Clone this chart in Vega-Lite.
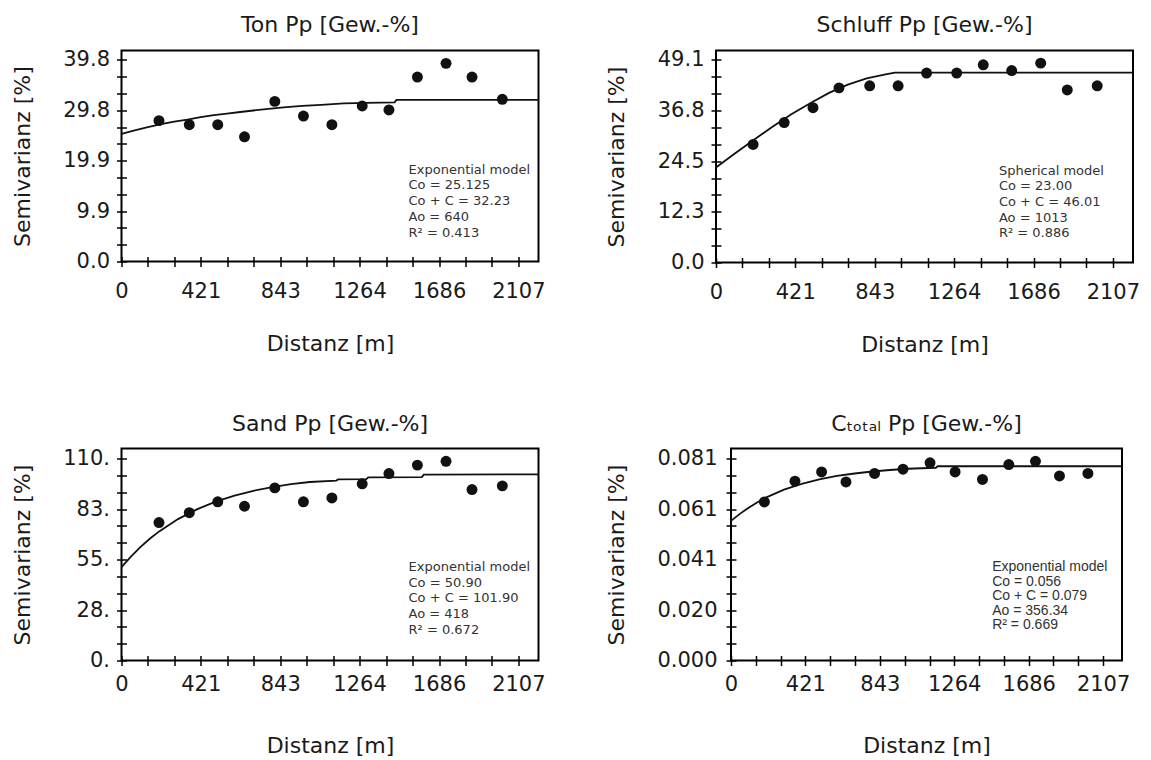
{
  "$schema": "https://vega.github.io/schema/vega-lite/v6.json",
  "padding": {"left": 9.5, "top": 12.5, "right": 0, "bottom": 0},
  "background": "white",
  "config": {
    "font": "DejaVu Sans",
    "view": {"stroke": "black", "strokeWidth": 2},
    "axis": {"domain": false, "grid": false, "tickColor": "black", "tickWidth": 1.5, "tickSize": 10, "offset": -5, "labelFontSize": 21, "titleFontSize": 22, "labelColor": "#1a1a1a", "titleColor": "#1a1a1a", "titleFontWeight": "normal", "labelFont": "DejaVu Sans", "titleFont": "DejaVu Sans", "labelOverlap": false, "labelBound": false, "labelFlush": false},
    "axisX": {"labelPadding": 14.4, "titlePadding": 32},
    "axisY": {"labelPadding": 7, "titlePadding": 28.5},
    "title": {"fontSize": 22, "fontWeight": "normal", "offset": 12, "color": "#1a1a1a", "font": "DejaVu Sans"}
  },
  "datasets": {
    "ton_pts": [{"h":199,"g":27.8},{"h":360,"g":27.0},{"h":511,"g":27.0},{"h":653,"g":24.6},{"h":814,"g":31.6},{"h":966,"g":28.7},{"h":1117,"g":27.0},{"h":1278,"g":30.7},{"h":1420,"g":29.9},{"h":1571,"g":36.4},{"h":1723,"g":39.1},{"h":1861,"g":36.4},{"h":2022,"g":32.0}],
    "ton_curve": [{"h":0,"g":25.2},{"h":70,"g":25.9},{"h":140,"g":26.5},{"h":210,"g":27.1},{"h":280,"g":27.6},{"h":350,"g":28.0},{"h":420,"g":28.5},{"h":490,"g":28.9},{"h":560,"g":29.2},{"h":630,"g":29.5},{"h":700,"g":29.8},{"h":780,"g":30.1},{"h":860,"g":30.4},{"h":960,"g":30.7},{"h":1060,"g":30.9},{"h":1180,"g":31.2},{"h":1300,"g":31.3},{"h":1450,"g":31.4},{"h":1460,"g":31.9},{"h":2214,"g":31.9}],
    "ton_note": [{"note": "Exponential model\nCo = 25.125\nCo + C = 32.23\nAo = 640\nR² = 0.413"}],
    "schluff_pts": [{"h":197,"g":28.6},{"h":362,"g":33.9},{"h":515,"g":37.5},{"h":653,"g":42.3},{"h":816,"g":42.8},{"h":967,"g":42.8},{"h":1118,"g":45.9},{"h":1278,"g":45.9},{"h":1419,"g":47.9},{"h":1570,"g":46.5},{"h":1724,"g":48.3},{"h":1865,"g":41.8},{"h":2024,"g":42.8}],
    "schluff_curve": [{"h":0,"g":23.0},{"h":100,"g":26.4},{"h":200,"g":29.7},{"h":300,"g":32.9},{"h":400,"g":35.9},{"h":500,"g":38.6},{"h":600,"g":41.1},{"h":700,"g":43.1},{"h":800,"g":44.6},{"h":900,"g":45.6},{"h":950,"g":46.0},{"h":2214,"g":46.0}],
    "schluff_note": [{"note": "Spherical model\nCo = 23.00\nCo + C = 46.01\nAo = 1013\nR² = 0.886"}],
    "sand_pts": [{"h":199,"g":75.1},{"h":360,"g":80.5},{"h":511,"g":86.4},{"h":653,"g":84.0},{"h":814,"g":94.0},{"h":966,"g":86.4},{"h":1117,"g":88.5},{"h":1278,"g":96.2},{"h":1420,"g":101.8},{"h":1571,"g":106.4},{"h":1723,"g":108.5},{"h":1861,"g":93.1},{"h":2022,"g":95.1}],
    "sand_curve": [{"h":0,"g":50.9},{"h":50,"g":56.6},{"h":100,"g":61.7},{"h":150,"g":66.3},{"h":200,"g":70.3},{"h":300,"g":77.0},{"h":400,"g":82.3},{"h":500,"g":86.5},{"h":600,"g":89.8},{"h":700,"g":92.4},{"h":800,"g":94.4},{"h":900,"g":96.0},{"h":1000,"g":97.2},{"h":1140,"g":98.0},{"h":1150,"g":98.6},{"h":1300,"g":98.8},{"h":1310,"g":99.7},{"h":1595,"g":99.9},{"h":1605,"g":101.2},{"h":2214,"g":101.4}],
    "sand_note": [{"note": "Exponential model\nCo = 50.90\nCo + C = 101.90\nAo = 418\nR² = 0.672"}],
    "c_pts": [{"h":189,"g":0.0636},{"h":362,"g":0.0719},{"h":513,"g":0.0756},{"h":651,"g":0.0716},{"h":813,"g":0.0750},{"h":974,"g":0.0767},{"h":1127,"g":0.0793},{"h":1269,"g":0.0756},{"h":1424,"g":0.0726},{"h":1573,"g":0.0786},{"h":1724,"g":0.0799},{"h":1860,"g":0.0740},{"h":2021,"g":0.0750}],
    "c_curve": [{"h":0,"g":0.0560},{"h":50,"g":0.0588},{"h":100,"g":0.0613},{"h":150,"g":0.0635},{"h":200,"g":0.0654},{"h":300,"g":0.0685},{"h":400,"g":0.0708},{"h":500,"g":0.0726},{"h":600,"g":0.0740},{"h":700,"g":0.0750},{"h":800,"g":0.0758},{"h":900,"g":0.0764},{"h":1000,"g":0.0769},{"h":1160,"g":0.0773},{"h":1170,"g":0.0779},{"h":2214,"g":0.0779}],
    "c_note": [{"note": "Exponential model\nCo = 0.056\nCo + C = 0.079\nAo = 356.34\nR² = 0.669"}]
  },
  "spacing": 54,
  "vconcat": [
    {
      "spacing": 57.5,
      "hconcat": [
        {
          "width": 417, "height": 211,
          "title": "Ton Pp [Gew.-%]",
          "layer": [
            {"data": {"name": "ton_curve"}, "mark": {"type": "line", "color": "#111", "strokeWidth": 1.8},
              "encoding": {
                "x": {"field": "h", "type": "quantitative", "scale": {"domain": [0, 2214], "nice": false, "zero": false},
                  "axis": {"title": "Distanz [m]", "format": "d", "tickCount": 60, "values": [0,140,281,421,562,702,843,983,1124,1264,1405,1545,1686,1826,1967,2107], "labelExpr": "indexof([0,421,843,1264,1686,2107], datum.value) >= 0 ? datum.label : ''"}},
                "y": {"field": "g", "type": "quantitative", "scale": {"domain": [0, 41.64], "nice": false},
                  "axis": {"title": "Semivarianz [%]", "tickCount": 60, "values": [0,3.3167,6.6333,9.95,13.2667,16.5833,19.9,23.2167,26.5333,29.85,33.1667,36.4833,39.8], "labelExpr": "datum.value==0?'0.0':datum.value==9.95?'9.9':datum.value==19.9?'19.9':datum.value==29.85?'29.8':datum.value==39.8?'39.8':''"}}
              }},
            {"data": {"name": "ton_pts"}, "mark": {"type": "circle", "size": 120, "color": "#111", "opacity": 1},
              "encoding": {"x": {"field": "h", "type": "quantitative"}, "y": {"field": "g", "type": "quantitative"}}},
            {"data": {"name": "ton_note"}, "mark": {"type": "text", "align": "left", "baseline": "middle", "fontSize": 13, "lineHeight": 15.7, "lineBreak": "\n", "font": "DejaVu Sans", "color": "#333"},
              "encoding": {"x": {"datum": 1524, "type": "quantitative"}, "y": {"datum": 18.1, "type": "quantitative"}, "text": {"field": "note", "type": "nominal"}}}
          ]
        },
        {
          "width": 417, "height": 212,
          "title": "Schluff Pp [Gew.-%]",
          "layer": [
            {"data": {"name": "schluff_curve"}, "mark": {"type": "line", "color": "#111", "strokeWidth": 1.8},
              "encoding": {
                "x": {"field": "h", "type": "quantitative", "scale": {"domain": [0, 2214], "nice": false, "zero": false},
                  "axis": {"title": "Distanz [m]", "format": "d", "tickCount": 60, "values": [0,140,281,421,562,702,843,983,1124,1264,1405,1545,1686,1826,1967,2107], "labelExpr": "indexof([0,421,843,1264,1686,2107], datum.value) >= 0 ? datum.label : ''"}},
                "y": {"field": "g", "type": "quantitative", "scale": {"domain": [0, 51.36], "nice": false},
                  "axis": {"title": "Semivarianz [%]", "tickCount": 60, "values": [0,4.0917,8.1833,12.275,16.3667,20.4583,24.55,28.6417,32.7333,36.825,40.9167,45.0083,49.1], "labelExpr": "datum.value==0?'0.0':datum.value==12.275?'12.3':datum.value==24.55?'24.5':datum.value==36.825?'36.8':datum.value==49.1?'49.1':''"}}
              }},
            {"data": {"name": "schluff_pts"}, "mark": {"type": "circle", "size": 120, "color": "#111", "opacity": 1},
              "encoding": {"x": {"field": "h", "type": "quantitative"}, "y": {"field": "g", "type": "quantitative"}}},
            {"data": {"name": "schluff_note"}, "mark": {"type": "text", "align": "left", "baseline": "middle", "fontSize": 13, "lineHeight": 15.7, "lineBreak": "\n", "font": "DejaVu Sans", "color": "#333"},
              "encoding": {"x": {"datum": 1502, "type": "quantitative"}, "y": {"datum": 22.25, "type": "quantitative"}, "text": {"field": "note", "type": "nominal"}}}
          ]
        }
      ]
    },
    {
      "spacing": 57.5,
      "hconcat": [
        {
          "width": 417, "height": 212,
          "title": "Sand Pp [Gew.-%]",
          "layer": [
            {"data": {"name": "sand_curve"}, "mark": {"type": "line", "color": "#111", "strokeWidth": 1.8},
              "encoding": {
                "x": {"field": "h", "type": "quantitative", "scale": {"domain": [0, 2214], "nice": false, "zero": false},
                  "axis": {"title": "Distanz [m]", "format": "d", "tickCount": 60, "labelPadding": 8, "titlePadding": 41, "values": [0,140,281,421,562,702,843,983,1124,1264,1405,1545,1686,1826,1967,2107], "labelExpr": "indexof([0,421,843,1264,1686,2107], datum.value) >= 0 ? datum.label : ''"}},
                "y": {"field": "g", "type": "quantitative", "scale": {"domain": [0, 115.45], "nice": false},
                  "axis": {"title": "Semivarianz [%]", "tickCount": 60, "values": [0,9.1667,18.3333,27.5,36.6667,45.8333,55,64.1667,73.3333,82.5,91.6667,100.8333,110], "labelExpr": "datum.value==0?'0.':datum.value==27.5?'28.':datum.value==55?'55.':datum.value==82.5?'83.':datum.value==110?'110.':''"}}
              }},
            {"data": {"name": "sand_pts"}, "mark": {"type": "circle", "size": 120, "color": "#111", "opacity": 1},
              "encoding": {"x": {"field": "h", "type": "quantitative"}, "y": {"field": "g", "type": "quantitative"}}},
            {"data": {"name": "sand_note"}, "mark": {"type": "text", "align": "left", "baseline": "middle", "fontSize": 13, "lineHeight": 15.7, "lineBreak": "\n", "font": "DejaVu Sans", "color": "#333"},
              "encoding": {"x": {"datum": 1524, "type": "quantitative"}, "y": {"datum": 50.9, "type": "quantitative"}, "text": {"field": "note", "type": "nominal"}}}
          ]
        },
        {
          "width": 391, "height": 212,
          "title": "Cₜₒₜₐₗ Pp [Gew.-%]",
          "layer": [
            {"data": {"name": "c_curve"}, "mark": {"type": "line", "color": "#111", "strokeWidth": 1.8},
              "encoding": {
                "x": {"field": "h", "type": "quantitative", "scale": {"domain": [0, 2214], "nice": false, "zero": false},
                  "axis": {"title": "Distanz [m]", "format": "d", "tickCount": 60, "labelPadding": 8, "titlePadding": 41, "values": [0,140,281,421,562,702,843,983,1124,1264,1405,1545,1686,1826,1967,2107], "labelExpr": "indexof([0,421,843,1264,1686,2107], datum.value) >= 0 ? datum.label : ''"}},
                "y": {"field": "g", "type": "quantitative", "scale": {"domain": [0, 0.08502], "nice": false},
                  "axis": {"title": "Semivarianz [%]", "labelPadding": 9, "tickCount": 60, "values": [0,0.00675,0.0135,0.02025,0.027,0.03375,0.0405,0.04725,0.054,0.06075,0.0675,0.07425,0.081], "labelExpr": "datum.value==0?'0.000':datum.value==0.02025?'0.020':datum.value==0.0405?'0.041':datum.value==0.06075?'0.061':datum.value==0.081?'0.081':''"}}
              }},
            {"data": {"name": "c_pts"}, "mark": {"type": "circle", "size": 120, "color": "#111", "opacity": 1},
              "encoding": {"x": {"field": "h", "type": "quantitative"}, "y": {"field": "g", "type": "quantitative"}}},
            {"data": {"name": "c_note"}, "mark": {"type": "text", "align": "left", "baseline": "middle", "fontSize": 14, "lineHeight": 14.6, "lineBreak": "\n", "font": "Liberation Sans", "color": "#333"},
              "encoding": {"x": {"datum": 1479, "type": "quantitative"}, "y": {"datum": 0.0375, "type": "quantitative"}, "text": {"field": "note", "type": "nominal"}}}
          ]
        }
      ]
    }
  ]
}
